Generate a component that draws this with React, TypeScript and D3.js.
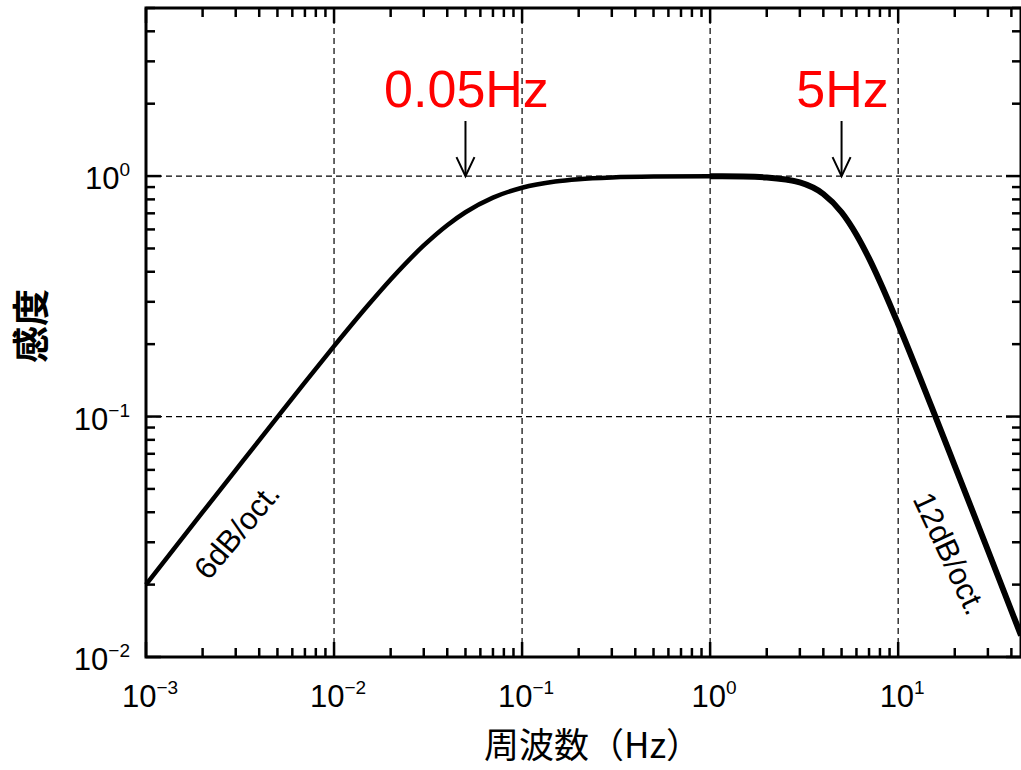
import React, { useEffect, useRef } from 'react';
import * as d3 from 'd3';

// frequency (Hz) and sensitivity
const freq = [0.001, 0.002, 0.003, 0.005, 0.007, 0.01, 0.015, 0.02, 0.03, 0.04, 0.05, 0.07, 0.1, 0.15, 0.2, 0.3, 0.5, 1, 1.5, 2, 3, 4, 5, 6, 7, 8, 10, 15, 20, 30, 45];
const sens = [0.02, 0.04, 0.0599, 0.0995, 0.1387, 0.1961, 0.2873, 0.3714, 0.5145, 0.6247, 0.7071, 0.8137, 0.8944, 0.9487, 0.9701, 0.9864, 0.995, 0.998, 0.9954, 0.9871, 0.9408, 0.8423, 0.7071, 0.5704, 0.4545, 0.3638, 0.2425, 0.1104, 0.0624, 0.0278, 0.0123];

const xMajor = [-3, -2, -1, 0, 1];
const yMajor = [-2, -1, 0];
const markers = [0.05, 5];
const markerLabels = ['0.05Hz', '5Hz'];

const W = 1021, H = 770;
const font = '"Liberation Sans", Arial, sans-serif';
const cjk = '"Noto Sans CJK JP", sans-serif';

export default function App() {
  const ref = useRef<SVGSVGElement>(null);

  useEffect(() => {
    const svg = d3.select(ref.current);
    svg.selectAll('*').remove();

    const left = 146, right = 1021, top = 8, bottom = 657;
    const x = d3.scaleLog().domain([0.001, 45]).range([left, right]);
    const y = d3.scaleLog().domain([0.01, 5]).range([bottom, top]);

    const g = svg.append('g');

    // grid
    xMajor.slice(1).forEach(e => {
      g.append('line').attr('x1', x(10 ** e)).attr('x2', x(10 ** e)).attr('y1', top).attr('y2', bottom)
        .attr('stroke', '#000').attr('stroke-width', 1.2).attr('stroke-dasharray', '6,4');
    });
    yMajor.slice(1).forEach(e => {
      g.append('line').attr('x1', left).attr('x2', right).attr('y1', y(10 ** e)).attr('y2', y(10 ** e))
        .attr('stroke', '#000').attr('stroke-width', 1.2).attr('stroke-dasharray', '6,4');
    });

    // ticks
    const xt: number[] = [];
    for (let e = -3; e <= 1; e++) for (let k = 1; k <= 9; k++) { const v = k * 10 ** e; if (v <= 45) xt.push(v); }
    xt.forEach(v => {
      const major = Math.abs(Math.log10(v) - Math.round(Math.log10(v))) < 1e-9;
      const len = major ? 15 : 9;
      g.append('line').attr('x1', x(v)).attr('x2', x(v)).attr('y1', bottom).attr('y2', bottom - len).attr('stroke', '#000').attr('stroke-width', 2.5);
      g.append('line').attr('x1', x(v)).attr('x2', x(v)).attr('y1', top).attr('y2', top + len).attr('stroke', '#000').attr('stroke-width', 2.5);
    });
    const yt: number[] = [];
    for (let e = -2; e <= 0; e++) for (let k = 1; k <= 9; k++) { const v = k * 10 ** e; if (v <= 5) yt.push(v); }
    yt.forEach(v => {
      const major = Math.abs(Math.log10(v) - Math.round(Math.log10(v))) < 1e-9;
      const len = major ? 15 : 9;
      g.append('line').attr('y1', y(v)).attr('y2', y(v)).attr('x1', left).attr('x2', left + len).attr('stroke', '#000').attr('stroke-width', 2.5);
      g.append('line').attr('y1', y(v)).attr('y2', y(v)).attr('x1', right).attr('x2', right - len).attr('stroke', '#000').attr('stroke-width', 2.5);
    });

    // frame
    g.append('rect').attr('x', left).attr('y', top).attr('width', right - left).attr('height', bottom - top)
      .attr('fill', 'none').attr('stroke', '#000').attr('stroke-width', 3);

    // tick labels
    xMajor.forEach(e => {
      const t = g.append('text').attr('x', x(10 ** e) + 4).attr('y', 707).attr('text-anchor', 'middle')
        .attr('font-family', font).attr('font-size', 31).attr('fill', '#000');
      t.append('tspan').text('10');
      t.append('tspan').attr('dy', -13).attr('font-size', 19).text(e < 0 ? '\u2212' + (-e) : String(e));
    });
    yMajor.forEach(e => {
      const t = g.append('text').attr('x', 130).attr('y', y(10 ** e) + 13).attr('text-anchor', 'end')
        .attr('font-family', font).attr('font-size', 31).attr('fill', '#000');
      t.append('tspan').text('10');
      t.append('tspan').attr('dy', -13).attr('font-size', 19).text(e < 0 ? '\u2212' + (-e) : String(e));
    });

    // curve (the low-pass side is drawn heavier in the original)
    const line = d3.line<number>().x(i => x(freq[i])).y(i => y(sens[i])).curve(d3.curveMonotoneX);
    const idx = d3.range(freq.length);
    g.append('path').attr('d', line(idx)).attr('fill', 'none')
      .attr('stroke', '#000').attr('stroke-width', 4.5).attr('stroke-linejoin', 'round');
    g.append('path').attr('d', line(idx.filter(i => freq[i] >= 1))).attr('fill', 'none')
      .attr('stroke', '#000').attr('stroke-width', 6).attr('stroke-linejoin', 'round');

    // markers
    markers.forEach((f, i) => {
      const cx = x(f), cy = y(1);
      g.append('line').attr('x1', cx).attr('x2', cx).attr('y1', 121).attr('y2', cy).attr('stroke', '#000').attr('stroke-width', 2);
      g.append('path').attr('d', `M${cx - 9},${cy - 19}L${cx},${cy}L${cx + 9},${cy - 19}`)
        .attr('fill', 'none').attr('stroke', '#000').attr('stroke-width', 2);
      g.append('text').attr('x', cx + 1).attr('y', 107).attr('text-anchor', 'middle')
        .attr('font-family', font).attr('font-size', 52).attr('fill', '#ff0000').text(markerLabels[i]);
    });

    // slope notes
    g.append('text').attr('transform', 'translate(245,538) rotate(-50)').attr('text-anchor', 'middle')
      .attr('font-family', font).attr('font-size', 31).attr('fill', '#000').text('6dB/oct.');
    g.append('text').attr('transform', 'translate(940,558) rotate(65)').attr('text-anchor', 'middle')
      .attr('font-family', font).attr('font-size', 31).attr('fill', '#000').text('12dB/oct.');

    // axis titles
    g.append('text').attr('x', 484).attr('y', 758).attr('text-anchor', 'start')
      .attr('font-family', cjk).attr('font-size', 35).attr('fill', '#000').text('周波数（Hz）');
    g.append('text').attr('transform', 'translate(45,326) rotate(-90)').attr('text-anchor', 'middle')
      .attr('font-family', cjk).attr('font-weight', 'bold').attr('font-size', 37).attr('fill', '#000').text('感度');
  }, []);

  return (
    <svg ref={ref} width={W} height={H} style={{ position: 'absolute', left: 0, top: 0, background: '#fff' }} />
  );
}
